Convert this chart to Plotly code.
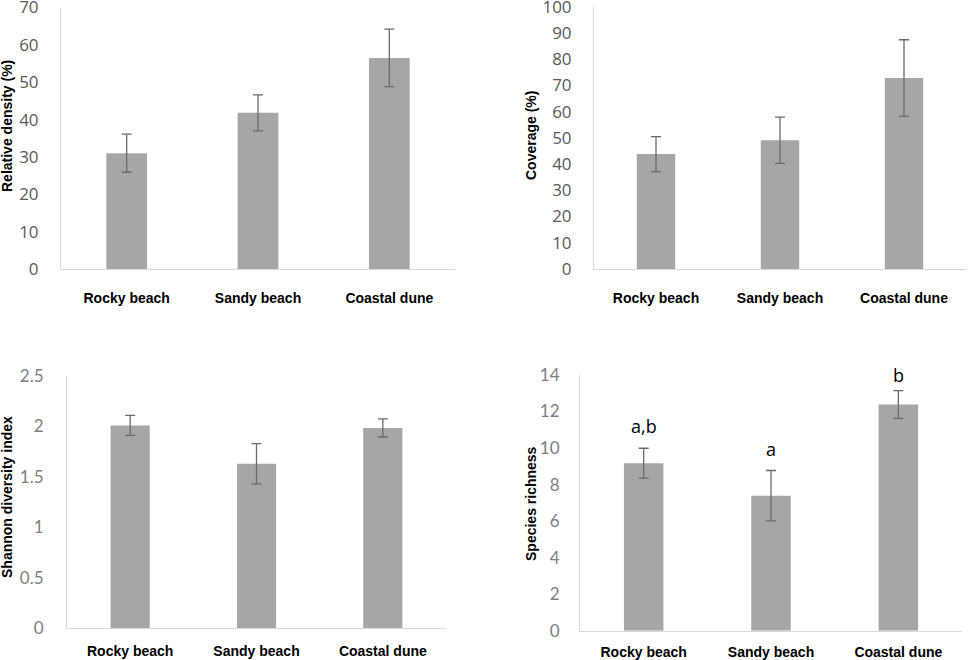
import plotly.graph_objects as go

W, H = 968, 660

categories = ["Rocky beach", "Sandy beach", "Coastal dune"]

density_mean = [31.0, 41.8, 56.5]
density_err = [5.1, 4.8, 7.7]

coverage_mean = [43.8, 49.1, 72.8]
coverage_err = [6.7, 8.8, 14.6]

shannon_mean = [2.01, 1.63, 1.985]
shannon_err = [0.10, 0.20, 0.09]

richness_mean = [9.17, 7.39, 12.38]
richness_err = [0.82, 1.38, 0.76]
richness_letters = ["a,b", "a", "b"]
richness_letter_y = [11.2, 9.95, 14.0]

density_ticks = [0, 10, 20, 30, 40, 50, 60, 70]
coverage_ticks = [0, 10, 20, 30, 40, 50, 60, 70, 80, 90, 100]
shannon_ticks = [0, 0.5, 1, 1.5, 2, 2.5]
richness_ticks = [0, 2, 4, 6, 8, 10, 12, 14]

BAR = "#a6a6a6"
ERR = "#6b6b6b"
AXL = "#d9d9d9"


def dom_x(a, b):
    return [a / W, b / W]


def dom_y(bottom_px, top_px):
    return [1 - bottom_px / H, 1 - top_px / H]


panels = [
    (density_mean, density_err, density_ticks, [0, 70], dom_x(61, 455), dom_y(269, 7.5),
     dict(family="Open Sans", size=17, color="#595959"), 18, 16),
    (coverage_mean, coverage_err, coverage_ticks, [0, 100], dom_x(594, 966), dom_y(269, 6.7),
     dict(family="Open Sans", size=17, color="#595959"), 18, 16),
    (shannon_mean, shannon_err, shannon_ticks, [0, 2.5], dom_x(67, 446), dom_y(628, 376),
     dict(family="Lato", size=17, color="#7f7f7f"), 19, 10),
    (richness_mean, richness_err, richness_ticks, [0, 14], dom_x(580, 962), dom_y(630.7, 375),
     dict(family="Lato", size=17, color="#7f7f7f"), 16, 8),
]

fig = go.Figure()
layout = {}
for i, (mean, err, ticks, rng, xd, yd, tf, ystand, xstand) in enumerate(panels, start=1):
    sx = "" if i == 1 else str(i)
    fig.add_trace(go.Bar(
        x=categories, y=mean,
        xaxis="x" + sx, yaxis="y" + sx,
        marker=dict(color=BAR, line=dict(width=0)),
        error_y=dict(type="data", array=err, visible=True, color=ERR, thickness=1.3, width=5),
        width=0.31, showlegend=False, hoverinfo="skip",
    ))
    layout["xaxis" + sx] = dict(
        domain=xd, anchor="y" + sx, showgrid=False, zeroline=False,
        showline=True, linecolor=AXL, linewidth=1, ticks="", automargin=False,
        tickfont=dict(family="Liberation Sans", size=14, color="#000000", weight="bold"),
        ticklabelstandoff=xstand, ticklabeloverflow="allow", fixedrange=True,
    )
    layout["yaxis" + sx] = dict(
        domain=yd, anchor="x" + sx, range=rng, tickvals=ticks, automargin=False,
        showgrid=False, zeroline=False, showline=True, linecolor=AXL, linewidth=1,
        ticks="", tickfont=tf, ticklabelstandoff=ystand, ticklabeloverflow="allow",
        fixedrange=True,
    )

fig.update_layout(**layout)

title_font = dict(family="Liberation Sans", size=14, color="#000000", weight="bold")
ytitles = [
    ("Relative density (%)", 7, 126),
    ("Coverage (%)", 531, 136),
    ("Shannon diversity index", 7, 497),
    ("Species richness", 531, 504),
]
for text, px, py in ytitles:
    fig.add_annotation(text=text, x=px / W, y=1 - py / H, xref="paper", yref="paper",
                       textangle=-90, showarrow=False, font=title_font,
                       xanchor="center", yanchor="middle")

for cat, ly, lab in zip(categories, richness_letter_y, richness_letters):
    fig.add_annotation(text=lab, x=cat, y=ly, xref="x4", yref="y4",
                       showarrow=False, yanchor="middle",
                       font=dict(family="Open Sans", size=18, color="#000000"))

fig.update_layout(
    width=W, height=H, margin=dict(l=0, r=0, t=0, b=0),
    paper_bgcolor="white", plot_bgcolor="white", bargap=0.69,
)

fig.write_html("out.html", config={"displayModeBar": False},
               post_script="document.body.style.margin='0';document.body.style.overflow='hidden';")
